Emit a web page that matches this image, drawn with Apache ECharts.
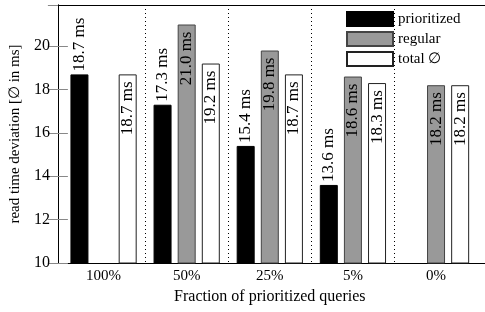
<!DOCTYPE html>
<html>
<head>
<meta charset="utf-8">
<script src="https://cdn.jsdelivr.net/npm/echarts@6/dist/echarts.min.js"></script>
<style>html,body{margin:0;padding:0;background:#fff;}#c{width:485px;height:312px;}</style>
</head>
<body>
<div id="c"></div>
<script>
const categories = ['100%', '50%', '25%', '5%', '0%'];
const prioritized = [18.7, 17.3, 15.4, 13.6, null];
const regular = [null, 21.0, 19.8, 18.6, 18.2];
const totalAvg = [18.7, 19.2, 18.7, 18.3, 18.2];
const yTicks = [10, 12, 14, 16, 18, 20];

const FONT = 'Liberation Serif';
const chart = echarts.init(document.getElementById('c'), null, {renderer: 'canvas'});
const fmt = p => p.value.toFixed(1) + ' ms';
const outsideLabel = {show: true, position: 'top', distance: 3, rotate: 90, align: 'left', verticalAlign: 'middle', fontFamily: FONT, fontSize: 17, color: '#000', formatter: fmt};
const insideLabel = {show: true, position: 'insideTop', distance: 7, rotate: 90, align: 'right', verticalAlign: 'middle', fontFamily: FONT, fontSize: 17, color: '#000', formatter: fmt};

const yMin = yTicks[0], yMax = 21.9;

chart.setOption({
  animation: false,
  textStyle: {fontFamily: FONT},
  grid: [
    {left: 54, right: -1, top: 5, bottom: 49},
    {left: 62, right: 7.4, top: 5, bottom: 49}
  ],
  legend: {
    orient: 'vertical', left: 346, top: 11, padding: 0,
    icon: 'rect',
    itemWidth: 46, itemHeight: 14, itemGap: 4,
    textStyle: {fontFamily: FONT, fontSize: 15, color: '#000', lineHeight: 14},
    data: ['prioritized', 'regular', 'total ∅']
  },
  xAxis: [
    {gridIndex: 0, type: 'value', min: 0, max: 1, position: 'bottom',
     axisLine: {show: true, lineStyle: {color: '#000', width: 1}}, axisTick: {show: false}, axisLabel: {show: false}, splitLine: {show: false}},
    {gridIndex: 0, type: 'value', min: 0, max: 1, position: 'top',
     axisLine: {show: true, lineStyle: {color: '#000', width: 1}}, axisTick: {show: false}, axisLabel: {show: false}, splitLine: {show: false}},
    {gridIndex: 1, type: 'category', data: categories, boundaryGap: true,
     name: 'Fraction of prioritized queries', nameLocation: 'middle', nameGap: 25,
     nameTextStyle: {fontFamily: FONT, fontSize: 16, color: '#000'},
     axisLine: {show: false}, axisTick: {show: false},
     axisLabel: {fontFamily: FONT, fontSize: 15, color: '#000', margin: 6},
     splitLine: {show: true, showMinLine: false, showMaxLine: false, lineStyle: {color: '#000', width: 1, type: [1, 3]}}}
  ],
  yAxis: [
    {gridIndex: 0, type: 'value', min: yMin, max: yMax, interval: 2, position: 'left',
     name: 'read time deviation [∅ in ms]', nameLocation: 'middle', nameGap: 28,
     nameTextStyle: {fontFamily: FONT, fontSize: 15, color: '#000'},
     axisLine: {show: true, lineStyle: {color: '#000', width: 1}},
     axisTick: {show: true, inside: true, length: 10, lineStyle: {color: '#888'}},
     axisLabel: {fontFamily: FONT, fontSize: 16, color: '#000', margin: 8, showMaxLabel: false},
     splitLine: {show: false}},
    {gridIndex: 0, type: 'value', min: yMin, max: yMax, interval: 2, position: 'right',
     axisLine: {show: true, lineStyle: {color: '#000', width: 1}},
     axisTick: {show: true, inside: true, length: 10, lineStyle: {color: '#888'}},
     axisLabel: {show: false}, splitLine: {show: false}},
    {gridIndex: 1, type: 'value', min: yMin, max: yMax, show: false}
  ],
  series: [
    {name: 'prioritized', type: 'bar', xAxisIndex: 2, yAxisIndex: 2, data: prioritized,
     barWidth: 18, barGap: '34%',
     itemStyle: {color: '#000', borderColor: '#000', borderWidth: 1}, label: outsideLabel},
    {name: 'regular', type: 'bar', xAxisIndex: 2, yAxisIndex: 2, data: regular,
     barWidth: 18, barGap: '34%',
     itemStyle: {color: '#999', borderColor: '#444', borderWidth: 1}, label: insideLabel},
    {name: 'total ∅', type: 'bar', xAxisIndex: 2, yAxisIndex: 2, data: totalAvg,
     barWidth: 18, barGap: '34%',
     itemStyle: {color: '#fff', borderColor: '#222', borderWidth: 1}, label: insideLabel}
  ]
});
</script>
</body>
</html>
